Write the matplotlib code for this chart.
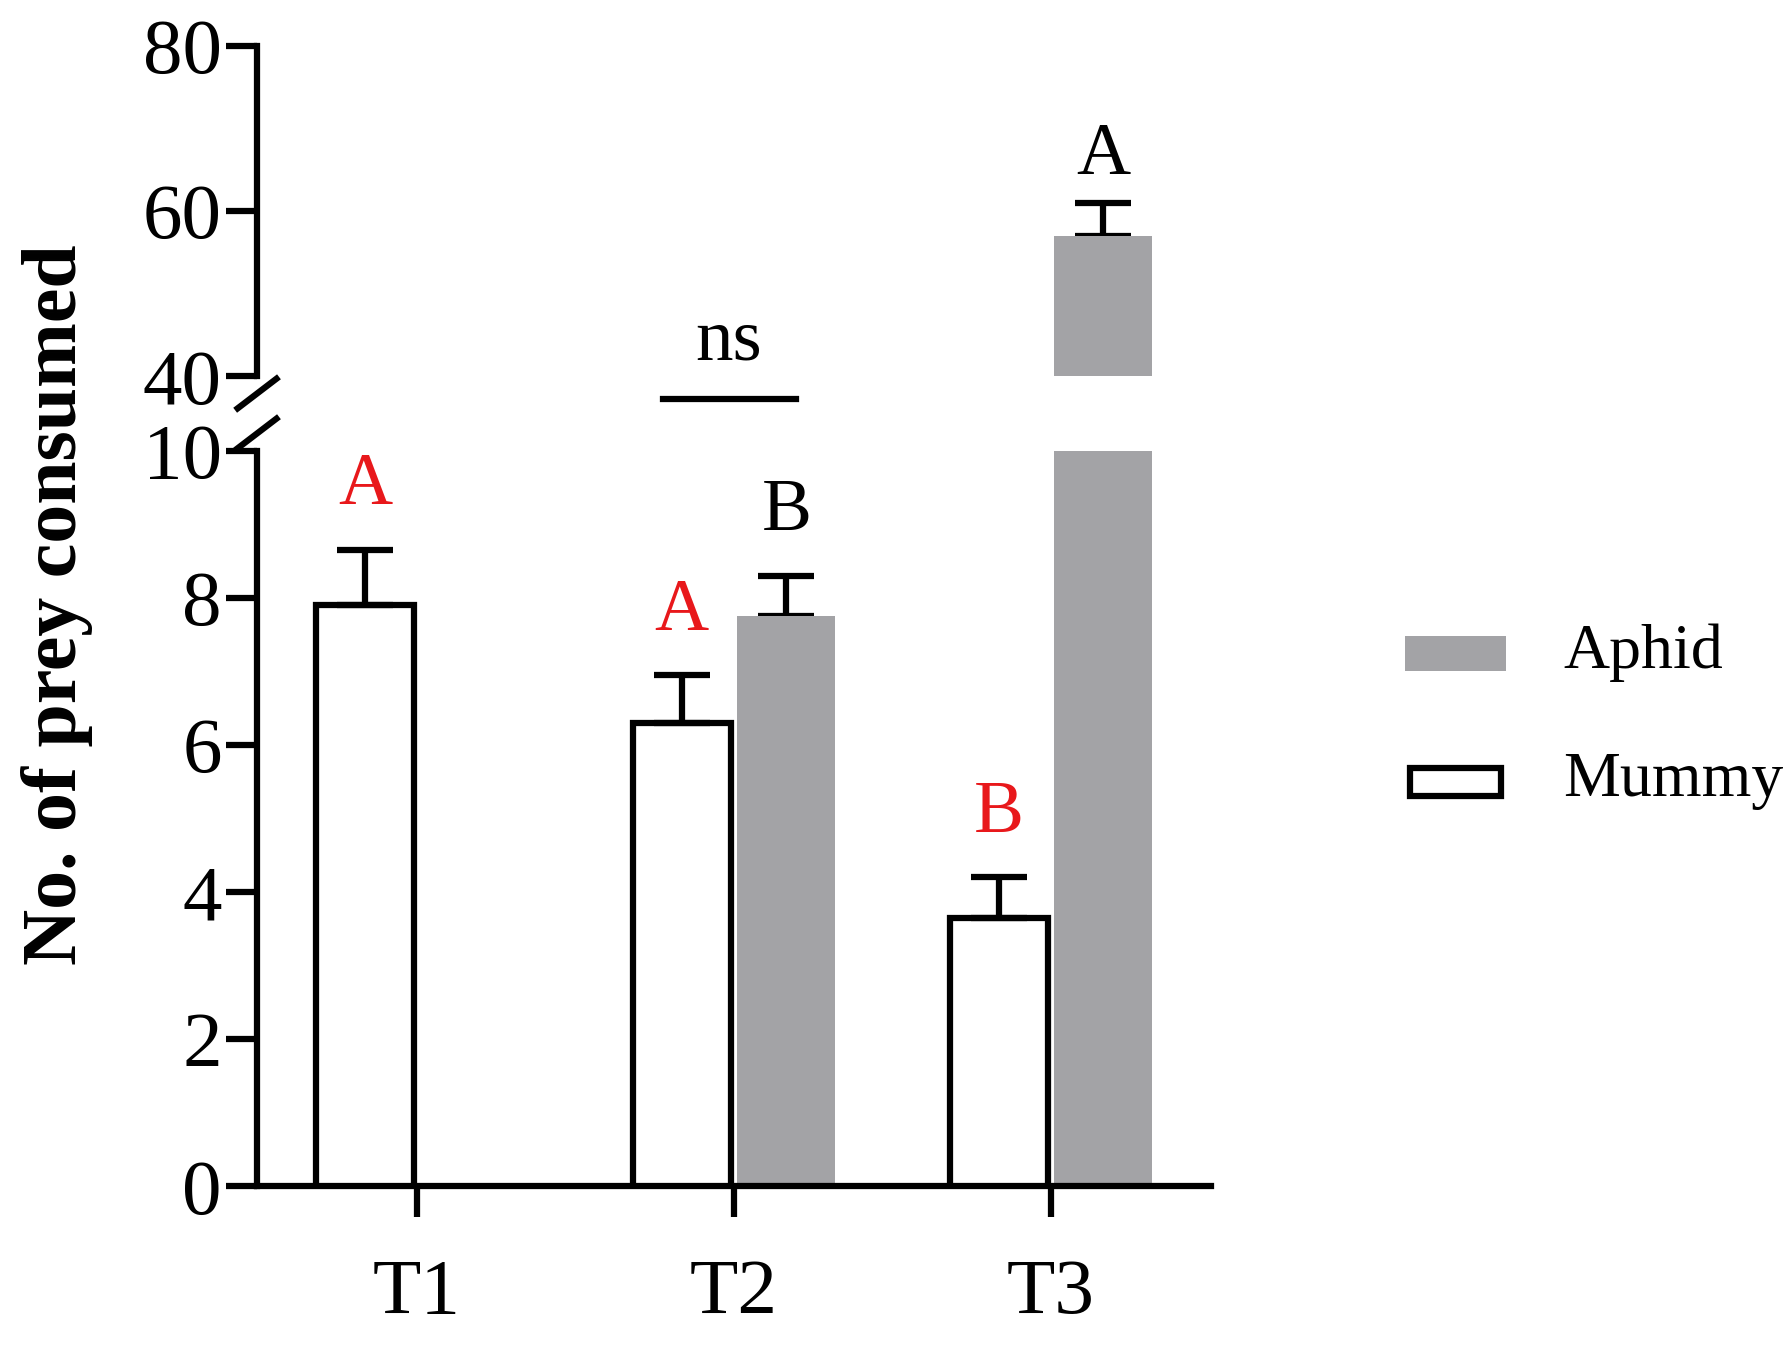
import matplotlib
matplotlib.use("Agg")
import matplotlib.pyplot as plt
from matplotlib.patches import Rectangle
from matplotlib.lines import Line2D

plt.rcParams['font.family'] = ['Liberation Serif', 'DejaVu Serif']

categories = ["T1", "T2", "T3"]
mummy = [7.9, 6.3, 3.65]
mummy_err = [0.75, 0.65, 0.55]
aphid = [None, 7.75, 57.0]
aphid_err = [None, 0.55, 4.0]
mummy_letters = ["A", "A", "B"]
aphid_letters = [None, "B", "A"]

W, H = 1565, 1180
fig = plt.figure(figsize=(17.88, 13.46), dpi=100)
def fx(px): return px / W
def fy(py): return 1 - py / H

axl = fig.add_axes([fx(225), fy(1040), fx(1060) - fx(225), fy(395) - fy(1040)])
axu = fig.add_axes([fx(225), fy(330), fx(1060) - fx(225), fy(40) - fy(330)])
lw = 4.5
gray = "#a3a3a6"
bw = 0.31
x = list(range(len(categories)))

for ax in (axl, axu):
    for i in x:
        ax.bar(i - bw / 2 - 0.01, mummy[i], bw, color="white", edgecolor="black", linewidth=lw, zorder=3)
        if aphid[i] is not None:
            ax.bar(i + bw / 2 + 0.01, aphid[i], bw, color=gray, edgecolor="none", zorder=2)
    ax.set_xlim(-0.505, 2.505)
    for s in ("top", "right"):
        ax.spines[s].set_visible(False)
    ax.spines["left"].set_linewidth(lw)
    ax.spines["bottom"].set_linewidth(lw)
    ax.tick_params(axis="both", width=lw, length=22, labelsize=57, direction="out")

for i in x:
    axl.errorbar(i - bw / 2 - 0.01, mummy[i], yerr=[[0], [mummy_err[i]]], fmt="none",
                 ecolor="black", elinewidth=lw, capsize=20, capthick=lw, zorder=4)
    if aphid[i] is not None:
        ax = axl if aphid[i] < 10 else axu
        ax.errorbar(i + bw / 2 + 0.01, aphid[i], yerr=[[0], [aphid_err[i]]], fmt="none",
                    ecolor="black", elinewidth=lw, capsize=20, capthick=lw, zorder=1)

axl.set_ylim(0, 10)
axl.set_yticks([0, 2, 4, 6, 8, 10])
axl.set_xticks(x)
axl.set_xticklabels(categories)
axl.tick_params(axis="x", pad=30)
axl.spines["left"].set_bounds(0, 10)
axu.set_ylim(40, 80)
axu.set_yticks([40, 60, 80])
axu.spines["bottom"].set_visible(False)
axu.set_xticks([])
axu.patch.set_alpha(0)
axl.patch.set_alpha(0)

for i in x:
    axl.text(i - bw / 2 - 0.01, mummy[i] + mummy_err[i] + 0.4, mummy_letters[i], color="#e8181b",
             ha="center", va="bottom", fontsize=54)
    if aphid[i] is not None:
        ax = axl if aphid[i] < 10 else axu
        off = 0.4 if aphid[i] < 10 else 1.5
        ax.text(i + bw / 2 + 0.01, aphid[i] + aphid_err[i] + off, aphid_letters[i], color="black",
                ha="center", va="bottom", fontsize=54)

for py in (345, 380):
    fig.add_artist(Line2D([fx(208), fx(242)], [fy(py + 13), fy(py - 13)], color="black", lw=lw))

fig.text(fx(638), fy(300), "ns", ha="center", va="center", fontsize=54)
fig.add_artist(Line2D([fx(580), fx(697)], [fy(350), fy(350)], color="black", lw=lw))

fig.text(fx(50), fy(530), "No. of prey consumed", rotation=90, ha="center",
         va="center", fontsize=56, fontweight="bold")

fig.add_artist(Rectangle((fx(1230), fy(588)), fx(1318) - fx(1230), fy(558) - fy(588), facecolor=gray, edgecolor="none"))
fig.add_artist(Rectangle((fx(1234), fy(698)), fx(1314) - fx(1234), fy(673) - fy(698), facecolor="white", edgecolor="black", lw=lw))
fig.text(fx(1368), fy(572), "Aphid", va="center", fontsize=46)
fig.text(fx(1368), fy(685), "Mummy", va="center", fontsize=46)

fig.savefig("out.png", dpi=100)
